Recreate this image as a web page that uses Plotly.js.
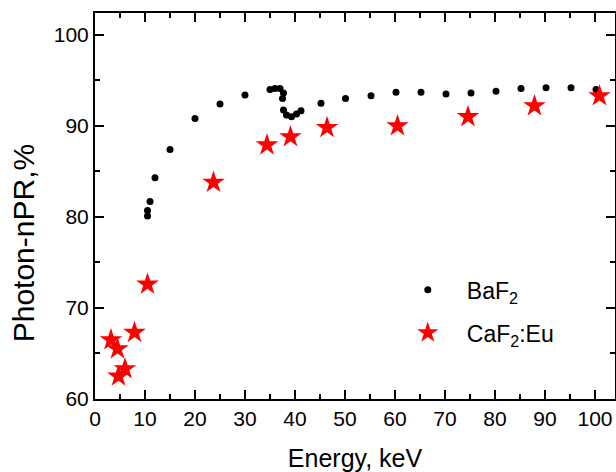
<!DOCTYPE html>
<html>
<head>
<meta charset="utf-8">
<script src="https://cdn.plot.ly/plotly-3.0.1.min.js"></script>
<style>html,body{margin:0;padding:0;background:#fff;}#chart{width:616px;height:472px;}</style>
</head>
<body>
<div id="chart"></div>
<script>
// BaF2 data (energy keV, photon-nPR %)
const bafEnergy = [10.5, 10.5, 11, 12, 15, 20, 25, 30, 35, 36, 37, 37.7, 37.5, 37.7, 38.3, 39.3, 40.3, 41.2, 45.2, 50.1, 55.2, 60.2, 65.2, 70.2, 75.2, 80.2, 85.2, 90.2, 95.2, 100.2];
const bafNPR    = [80.1, 80.7, 81.7, 84.3, 87.4, 90.8, 92.4, 93.4, 94.0, 94.1, 94.1, 93.6, 93.0, 91.75, 91.2, 91.0, 91.3, 91.65, 92.5, 93.0, 93.3, 93.7, 93.7, 93.5, 93.6, 93.8, 94.1, 94.2, 94.2, 94.0];
// CaF2:Eu data
const cafEnergy = [3.2, 4.5, 4.7, 6.0, 7.9, 10.5, 23.7, 34.4, 39.1, 46.4, 60.5, 74.6, 87.9, 100.9];
const cafNPR    = [66.5, 65.5, 62.5, 63.3, 67.3, 72.6, 83.8, 87.9, 88.8, 89.8, 90.0, 91.0, 92.2, 93.3];
const seriesNames = ['BaF<sub>2</sub>', 'CaF<sub>2</sub>:Eu'];
const xTitle = 'Energy, keV';
const yTitle = 'Photon-nPR,%';

const font = 'Liberation Sans, Arial, sans-serif';
const traces = [
  {x: bafEnergy, y: bafNPR, name: seriesNames[0], legendgroup: 'a', mode: 'markers', type: 'scatter',
   marker: {symbol: 'circle', size: 7, color: '#000000'}},
  {x: cafEnergy, y: cafNPR, name: seriesNames[1], legendgroup: 'b', mode: 'markers', type: 'scatter',
   marker: {symbol: 'star', size: 17, color: '#ff0000', line: {width: 0}}}
];
const axisCommon = {
  showline: true, linecolor: '#000', linewidth: 2, mirror: 'allticks',
  ticks: 'inside', ticklen: 9, tickwidth: 2, tickcolor: '#000',
  showgrid: false, zeroline: false,
  tickfont: {family: font, size: 21, color: '#000'}
};
const layout = {
  width: 616, height: 472,
  margin: {l: 95, r: 1, t: 13, b: 73},
  paper_bgcolor: '#fff', plot_bgcolor: '#fff',
  showlegend: true,
  legend: {x: 0.565, y: 0.227, xanchor: 'left', yanchor: 'middle', bgcolor: 'rgba(0,0,0,0)',
           traceorder: 'grouped', tracegroupgap: 10,
           font: {family: font, size: 23, color: '#000'}, itemwidth: 68},
  xaxis: Object.assign({}, axisCommon, {
    range: [0, 104], tickmode: 'linear', tick0: 0, dtick: 10,
    minor: {dtick: 5, ticks: 'inside', ticklen: 5, tickwidth: 2, tickcolor: '#000'},
    title: {text: xTitle, font: {family: font, size: 25, color: '#000'}, standoff: 20}
  }),
  yaxis: Object.assign({}, axisCommon, {
    range: [60, 102.4], tickmode: 'linear', tick0: 60, dtick: 10,
    minor: {dtick: 5, ticks: 'inside', ticklen: 5, tickwidth: 2, tickcolor: '#000'}
  }),
  annotations: [{
    text: yTitle, xref: 'paper', yref: 'paper', x: -0.138, y: 0.404,
    xanchor: 'center', yanchor: 'middle', textangle: -90, showarrow: false,
    font: {family: font, size: 30, color: '#000'}
  }]
};
Plotly.newPlot('chart', traces, layout, {displayModeBar: false, staticPlot: true});
</script>
</body>
</html>
